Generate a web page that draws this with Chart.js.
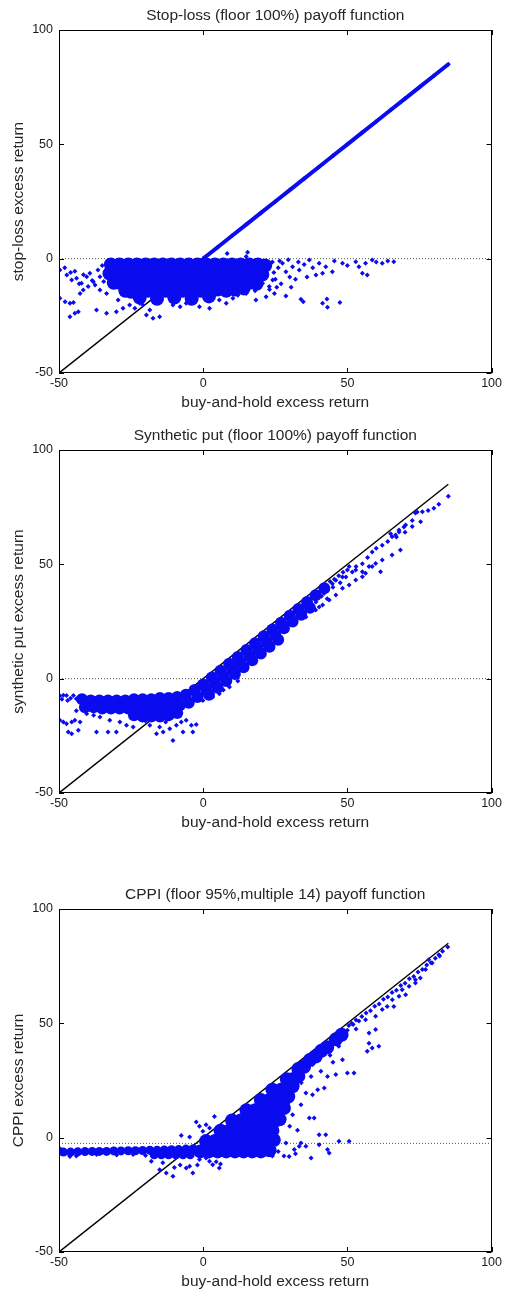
<!DOCTYPE html>
<html>
<head>
<meta charset="utf-8">
<script src="https://cdn.jsdelivr.net/npm/chart.js@4.4.1/dist/chart.umd.min.js"></script>
<style>
html, body { margin: 0; padding: 0; background: #fff; overflow: hidden; }
#wrap { position: relative; width: 505px; height: 1298px; }
canvas { position: absolute; left: 0; }
</style>
</head>
<body>
<div id="wrap">
    <canvas id="c1" width="505" height="420" style="top:0;width:505px;height:420px"></canvas>
    <canvas id="c2" width="505" height="420" style="top:420px;width:505px;height:420px"></canvas>
    <canvas id="c3" width="505" height="420" style="top:879px;width:505px;height:420px"></canvas>
</div>
<script>
// axis / reference values
const xTicks = [-50, 0, 50, 100];
const yTicks = [-50, 0, 50, 100];
const diagEnds = [-50, 85];           // buy-and-hold = strategy line
const floorLevels = [0, 0, -2.5];     // dotted floor per panel

const titles = [
    'Stop-loss (floor 100%) payoff function',
    'Synthetic put (floor 100%) payoff function',
    'CPPI (floor 95%,multiple 14) payoff function'
];
const yLabels = ['stop-loss excess return', 'synthetic put excess return', 'CPPI excess return'];
const xLabel = 'buy-and-hold excess return';

// ---- stop-loss ----
const stopLossDiag = [[0,0],[5,5],[10,10],[15,15],[20,20],[25,25],[30,30],[35,35],[40,40],[45,45],[50,50],[55,55],[60,60],[65,65],[70,70],[75,75],[80,80],[85,85]];
const stopLossCore = [
    [-32,-2.5],[-29,-2.5],[-26,-2.5],[-23,-2.5],[-20,-2.5],[-17,-2.5],[-14,-2.5],[-11,-2.5],[-8,-2.5],[-5,-2.5],[-2,-2.5],[1,-2.5],[4,-2.5],[7,-2.5],[10,-2.5],[13,-2.5],[16,-2.5],[19,-2.5],[21.5,-3],
    [-32.5,-6.5],[-30,-6.5],[-27,-6.5],[-24,-6.5],[-21,-6.5],[-18,-6.5],[-15,-6.5],[-12,-6.5],[-9,-6.5],[-6,-6.5],[-3,-6.5],[0,-6.5],[3,-6.5],[6,-6.5],[9,-6.5],[12,-6.5],[15,-6.5],[18,-6.5],[20.5,-7],
    [-31,-10.5],[-29,-10.5],[-26,-10.5],[-23,-10.5],[-20,-10.5],[-17,-10.5],[-14,-10.5],[-11,-10.5],[-8,-10.5],[-5,-10.5],[-2,-10.5],[1,-10.5],[4,-10.5],[7,-10.5],[10,-10.5],[13,-10.5],[16,-10.5],[18.5,-11],
    [-27,-14],[-25,-14.5],[-22,-14.5],[-19,-14],[-16,-14.5],[-13,-14],[-10,-14.5],[-7,-14],[-4,-14.5],[-1,-14],[2,-14],[5,-13.5],[8,-14],[11,-13.5],[14,-13],
    [-22,-17],[-16,-17.5],[-10,-17],[-4,-17.5],[2,-16.5]
];
const stopLossPts = [
    [-49.7,-5],[-48,-4],[-47.3,-7.1],[-46,-6],[-45.6,-9.3],[-44.5,-5.5],[-43.9,-8.6],[-43,-11],[-42.2,-10.8],[-41.5,-7],[-40.4,-7.9],[-39.3,-6.4],[-38.5,-9.5],[-37.5,-11.5],[-36.5,-5],[-35.8,-7.9],[-35,-3],[-34.5,-10],
    [-49.7,-17.3],[-47.9,-18.8],[-46.2,-19.5],[-45,-19.2],[-46.2,-25.4],[-44.5,-23.9],[-43.3,-23.2],
    [-42.7,-15.2],[-41.6,-13.7],[-39.9,-12.2],[-38.1,-10.1],[-37,-22.4],[-33.5,-23.9],[-33.5,-15.2],[-35.8,-13.7],
    [-29.5,-18.1],[-30.1,-23.2],[-27.8,-21.7],[-25.5,-20.3],[-23.7,-21.7],[-20.9,-20.3],[-19.7,-24.6],[-17.4,-26.1],[-15.1,-25.4],[-18.5,-22.5],[-22,-19.5],
    [-10.5,-20.3],[-5.9,-19.5],[-1.3,-21],[2.2,-21.7],[5.6,-18.1],[10.3,-17.3],[14.9,-15.2],[18.3,-18.1],[21.8,-16.6],[8,-19.5],[-8,-21],
    [24.7,-15.2],[28.7,-16.3],[33.9,-17.8],[34.7,-18.8],[41.4,-19.5],[43.1,-21.3],[42.9,-17.6],[47.4,-19.2],
    [27.5,-2],[31,-3.5],[33.3,-5],[36.8,-0.6],[40.2,-2],[42.5,-3.5],[44.8,-5.7],[48.3,-2],[52.9,-1.3],[56.3,-2],[58.6,-0.6],[62.1,-2],[66.1,-1.3],[55.2,-6.4],[56.9,-7.1],[39.1,-7.1],[41.4,-6.4],[28.7,-5.7],[54,-3.5],[45.5,-1],[50,-3],[60,-1.5],[64,-1],[35,-2.5],[38,-4],[30,-8],[25,-9],
    [8.3,2.3],[15.4,2.8],[14.9,0.9],
    [19.5,-3.5],[21.8,-6.4],[24.1,-9.3],[20.6,-10.8],[22.9,-12.2],[17.2,-7.9],[16,-10.8],[24,-1.5],[26,-4],[23,-13.5],[18,-14],[12,-16],
    [24.5,-6],[26.5,-1],[27,-11],[29.5,-0.5],[32,-9],[30.5,-12.5],[36,-8],[33,-1.5],[25.5,-12.5]
];

// ---- synthetic put ----
const synPutCore = [
    [-42,-9],[-39,-9.5],[-36,-9.5],[-33,-9.5],[-30,-9.5],[-27,-9.5],[-24,-9],[-21,-9],[-18,-9],[-15,-8.5],[-12,-8.5],[-9,-8],[-6,-7],
    [-41,-12.5],[-38,-12.5],[-35,-13],[-32,-13],[-29,-13],[-26,-13],[-23,-12.5],[-20,-12.5],[-17,-12.5],[-14,-12.5],[-11,-12],[-8,-11.5],[-5,-10.5],
    [-24,-16],[-21,-16.5],[-18,-16.5],[-15,-16.5],[-12,-16],[-9,-15],
    [-3,-5],[0,-2.5],[3,0.5],[6,3.5],[9,6.5],[12,9.5],[15,12.5],[18,15.5],[21,18.5],[24,21.5],[27,24.5],[30,27.5],[33,30.5],[36,33.5],[39,36.5],[42,39.5],
    [-2,-8],[1,-5],[4,-2],[7,1],[10,4],[13,7],[16,10],[19,13],[22,16],[25,19],[28,22],[31,25],[34,28],[37,31],
    [2,-7],[5,-4],[8,-1],[11,2],[14,5],[17,8],[20,11],[23,14],[26,17]
];
const synPutPts = [
    [-49.7,-7.5],[-48.5,-7.2],[-47.4,-7.4],[-46,-8.6],[-45,-7.4],[-44,-8.8],[-43,-7.8],[-49,-9],[-47,-9.5],
    [-49.7,-18.2],[-48.5,-19],[-47.4,-19.7],[-45.6,-19],[-44.5,-18.2],[-42.7,-19],
    [-46.8,-23.3],[-45.6,-24.1],[-43.3,-22.6],[-37,-23.3],[-33,-23.3],[-30.1,-23.3],
    [-40.4,-15.3],[-35.8,-16.8],[-32.4,-18.2],[-28.9,-19],[-26.6,-20.4],[-24.3,-21.1],[-42,-12],[-44,-14],[-38,-16],
    [-16.2,-24.1],[-13.9,-23.3],[-10.5,-27],[-7,-23.3],[-3.6,-23.3],[-4.1,-20.4],[-2.4,-20],[-5.9,-18.2],
    [-11.6,-21.9],[-9.3,-20.4],[-7.6,-19],[-18.5,-20.4],[-15.1,-21.1],[-20,-18.5],[-13,-19],
    [-0.1,-9.5],[3.3,-8],[5.6,-6.6],[9.1,-3.6],[12,-1],[7,-5],
    [33.3,28.4],[36.8,31.3],[39.1,33.5],[41.9,37.2],[40.2,31.3],[35.6,27],[38,30.5],[43,35],
    [44.8,41.5],[48.3,44.5],[51.7,46.6],[55.2,50.3],[58.6,55.4],[62.1,58.3],[65,63.4],[67.9,64.1],[69.6,66.3],[72.5,69.2],[74.2,72.9],[42,40],[46,43],[50,47.5],[53,49],[57,53],[60,57],[64,60],[67,62],[70,64],
    [44,42.5],[45.5,43.5],[47,45],[48.5,46.5],[43,38.5],[45,40],[47.5,42],[49.5,44.5],[41,36],
    [56.3,46.1],[58.6,49],[61.5,46.8],[50.6,49],[52.9,47.5],[55.2,46.8],
    [39,30],[41.4,32.2],[43.7,34.4],[46,36.6],[48.3,39.5],[50.6,41],[52.9,43.1],[55.2,44.6],[57.5,49],[59.8,50.4],[62.1,51.9],[65.5,54.1],[68.4,56.3],
    [65.5,62.1],[66.7,62.8],[67.9,65],[70.2,67.2],[72.5,66.5],[75.4,68.6],[73.6,72.5],[76,73],[78,73.5],[80,74.5],[81.7,76.3],[85,79.8]
];

// ---- CPPI ----
const cppiBand = [
    [-48.5,-6.3],[-46,-6.3],[-43.5,-6.2],[-41,-6.1],[-38.5,-6],[-36,-6],[-33.5,-6],[-31,-5.8],[-28.5,-5.8],[-26,-5.7],[-23.5,-5.7],[-21,-5.6],[-18.5,-5.5],[-16,-5.5],[-13.5,-5.4],[-11,-5.3],[-8.5,-5.2],[-6,-5],[-3.5,-4.8],
    [-17,-7.5],[-14.5,-7.5],[-12,-7.5],[-9.5,-7.5],[-7,-7.5],[-4.5,-7.5]
];
const cppiFan = [
    [-1,-6],[2,-6],[5,-6],[8,-6],[11,-6],[14,-6],[17,-6],[20,-6],[23,-5.5],
    [1,-1.5],[4,-1.5],[7,-1.5],[10,-1.5],[13,-1.5],[16,-1.5],[19,-1.5],[22,-1.5],[24.5,-1],
    [6,3],[9,3],[12,3],[15,3],[18,3],[21,3],[24,3],
    [10,7.5],[13,7.5],[16,7.5],[19,7.5],[22,7.5],[25,7.5],[26.5,8],
    [15,12],[18,12],[21,12],[24,12],[26,12],[28,13],
    [20,16.5],[23,16.5],[26,16.5],[28,16.5],[29.5,18],
    [24,21],[27,21],[29,21],[31,22.5],
    [29,25.5],[31,25.5],[33,27],
    [33,30],[35,31],
    [37,34],[39,35.5],
    [41,38],[43,39.5],
    [46,43],[48,45]
];
const cppiPts = [
    [-46.2,-8.2],[-37,-7.4],[-24.3,-7.4],[-12.8,-7.6],[-49.5,-5],[-44,-8],[-30,-7.6],[-20,-7.8],[-8,-7.5],
    [-18,-10.3],[-15.1,-14],[-10.5,-16.9],[-12.8,-15.5],[-5.9,-13.3],[-3.6,-15.5],[-4.7,-12.5],[-1.3,-9.6],[2.2,-10.3],[5.6,-13.3],[1,-8.9],[3.3,-11.8],[-8,-12],[-14,-11],[-2,-12],[4.5,-10.5],[-10,-13],[6,-11.5],
    [-7.6,0.9],[-4.7,0.3],[-2.4,6.9],[-1.3,5],[1,5.7],[3.9,9.3],[2.2,4.2],[-0.1,2.8],
    [28.7,-2.3],[31.6,-5.2],[33.9,-2.3],[35.6,-3.8],[37.4,-8.9],[40.2,1.3],[42.5,1.3],[40.2,-3.1],[43.1,-5.2],[43.7,-6.7],[47.1,-1.6],[50.6,-1.6],[29.8,-8.2],[33.3,-3.8],[26,-6],[28,-8],[24,-8],[32,-7],
    [36.8,8.6],[38.5,8.6],[32.7,3.2],[27,16.6],[30.4,21],[33.9,14.4],[35.6,19.5],[37.9,18.8],[39.7,21],[42,21.7],[43.1,26.8],[46,27.6],[50,28.3],[48.3,34.1],[52.3,28.3],[40.8,29],[37.4,26.8],[56.9,37.8],[58.6,39.2],[60.9,40],[57.5,45.8],[59.8,47.3],[57.5,41.3],[31,10],[29,12],[34,24],[38,32],[44,36],[47,40],[45,33],[30,5],
    [56.3,51.6],[59.8,53.1],[62.1,56],[63.8,57.4],[65.6,60.3],[66.1,57.4],[67.9,61.8],[70.2,62.5],[71.4,66.2],[73.6,67.6],[75.3,69.8],[77.1,73.5],[79.4,76.4],[81.7,80],[84.8,83.4],[78.2,77.8],[73.6,69.1],[69,64.7],
    [52,49.5],[54,51],[55,53],[58,55.5],[61,58.5],[64,61.5],[67,64.5],[70,67.5],[73,70.5],[76,73.5],[79,76.5],[82,79.5],[50,47],[53,47.5],[48,45],[45,41.5],[49,44],
    [50.5,49],[51.5,50],[53,51.5],[56.5,54.5],[59.5,57.5],[62.5,60.5],[65.5,63.5],[68.5,66.5],[71.5,69.5],[74.5,72.5],[77.5,75.5],[80.5,78.5],[83,81.5]
];

const BLUE = '#0b0bf0';
const FONT = "'Liberation Sans', Arial, sans-serif";

const toPts = arr => arr.map(p => ({x: p[0], y: p[1]}));

// box + inward tick marks, MATLAB style
const framePlugin = {
    id: 'frame',
    afterDatasetsDraw(chart) {
        const {ctx, chartArea: a, scales: {x, y}} = chart;
        ctx.save();
        ctx.strokeStyle = '#000';
        ctx.lineWidth = 1;
        ctx.strokeRect(Math.round(a.left) + 0.5, Math.round(a.top) + 0.5, Math.round(a.width) - 1, Math.round(a.height) - 1);
        ctx.beginPath();
        xTicks.forEach(v => {
            const px = Math.round(x.getPixelForValue(v)) + 0.5;
            ctx.moveTo(px, a.bottom); ctx.lineTo(px, a.bottom - 5);
            ctx.moveTo(px, a.top); ctx.lineTo(px, a.top + 5);
        });
        yTicks.forEach(v => {
            const py = Math.round(y.getPixelForValue(v)) + 0.5;
            ctx.moveTo(a.left, py); ctx.lineTo(a.left + 5, py);
            ctx.moveTo(a.right, py); ctx.lineTo(a.right - 5, py);
        });
        ctx.stroke();
        ctx.restore();
    }
};

function blueSet(pts, style, r, order, line) {
    return {
        data: toPts(pts),
        pointStyle: style,
        pointRadius: r,
        pointBackgroundColor: BLUE,
        pointBorderWidth: 0,
        borderColor: BLUE,
        borderWidth: line || 0,
        showLine: !!line,
        order: order
    };
}

function buildChart(id, idx, blueSets) {
    const datasets = blueSets.slice();
    datasets.push({
        data: toPts([[diagEnds[0], diagEnds[0]], [diagEnds[1], diagEnds[1]]]),
        showLine: true, borderColor: '#000', borderWidth: 1.4, pointRadius: 0, order: 20
    });
    datasets.push({
        data: toPts([[xTicks[0], floorLevels[idx]], [xTicks[3], floorLevels[idx]]]),
        showLine: true, borderColor: '#555', borderWidth: 1, borderDash: [1, 2], pointRadius: 0, order: 21
    });
    new Chart(document.getElementById(id), {
        type: 'scatter',
        data: {datasets: datasets},
        options: {
            responsive: false,
            animation: false,
            devicePixelRatio: 1,
            layout: {padding: {left: 0, right: 12, top: 0, bottom: 0}},
            plugins: {
                legend: {display: false},
                tooltip: {enabled: false},
                title: {
                    display: true, text: titles[idx], color: '#262626',
                    fullSize: false,
                    font: {family: FONT, size: 15.5, weight: 'normal'},
                    padding: {top: 6, bottom: 5.4}
                }
            },
            scales: {
                x: {
                    type: 'linear', min: -50, max: 100,
                    grid: {display: false, drawTicks: false},
                    border: {display: false},
                    ticks: {stepSize: 50, padding: 3, color: '#1a1a1a', font: {family: FONT, size: 12.5}},
                    title: {display: true, text: xLabel, color: '#262626', font: {family: FONT, size: 15.5}, padding: {top: 0, bottom: 7.7}},
                    afterFit: s => { s.height = 47; }
                },
                y: {
                    type: 'linear', min: -50, max: 100,
                    grid: {display: false, drawTicks: false},
                    border: {display: false},
                    ticks: {stepSize: 50, padding: 6, color: '#1a1a1a', font: {family: FONT, size: 12.5}},
                    title: {display: true, text: yLabels[idx], color: '#262626', font: {family: FONT, size: 15.5}, padding: {top: 9.7, bottom: 0}},
                    afterFit: s => { s.width = 59; }
                }
            }
        },
        plugins: [framePlugin]
    });
}

buildChart('c1', 0, [
    blueSet(stopLossDiag, 'rectRot', 2.5, 0, 4),
    blueSet(stopLossPts, 'rectRot', 2.5, 1),
    blueSet(stopLossCore, 'circle', 7, 2)
]);
buildChart('c2', 1, [
    blueSet(synPutPts, 'rectRot', 2.5, 1),
    blueSet(synPutCore, 'circle', 6, 2)
]);
buildChart('c3', 2, [
    blueSet(cppiPts, 'rectRot', 2.5, 1),
    blueSet(cppiBand, 'circle', 4.5, 2),
    blueSet(cppiFan, 'circle', 7, 3)
]);
</script>
</body>
</html>
